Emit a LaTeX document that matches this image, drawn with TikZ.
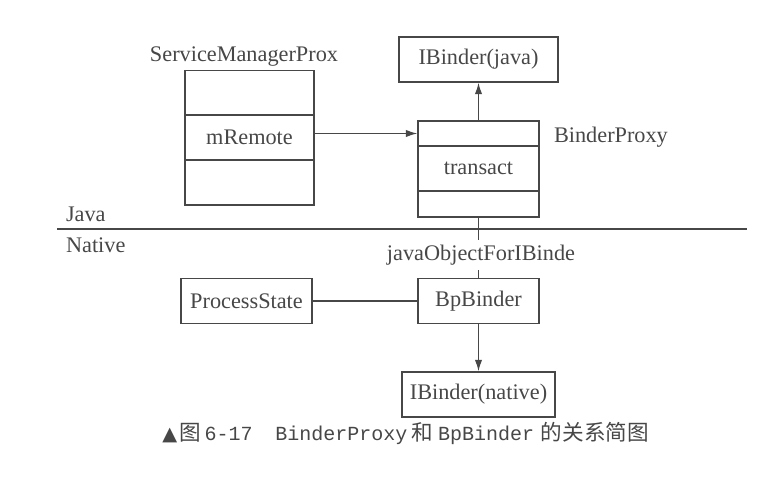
\documentclass[tikz,border=0pt]{standalone}
\usepackage{fontspec}
\setmainfont{Liberation Serif}
\newfontfamily\cjk{Noto Sans CJK SC}
\newfontfamily\capmono{Liberation Mono}
\newfontfamily\symfont{DejaVu Sans}
\usetikzlibrary{arrows.meta}
\definecolor{InkGray}{HTML}{474747}

\begin{document}
\begin{tikzpicture}[
    x=0.44pt, y=-0.44pt,
    every node/.style={text=InkGray, font=\fontsize{9.8}{11}\selectfont},
    box/.style={draw=InkGray, line width=0.6pt, inner sep=0pt, minimum width=#1*0.44pt, minimum height=19.8pt},
    cell/.style={box=#1, minimum height=0pt},
    link/.style={draw=InkGray, line width=0.6pt},
    >={Latex[length=5pt,width=3.2pt]}
]
    \useasboundingbox (0,0) rectangle (771,479);

    % ServiceManagerProx (three rows)
    \node[anchor=base] (smpName) at (244,62) {ServiceManagerProx};
    \node[box=129] (smpTop) at (249.5,93) {};
    \node[box=129] (smpMid) at (249.5,137.5) {mRemote};
    \node[box=129] (smpBot) at (249.5,182.5) {};

    % BinderProxy (three rows)
    \node[cell=121, minimum height=11pt] (bpTop) at (478.5,133.5) {};
    \node[box=121] (bpMid) at (478.5,168.5) {transact};
    \node[cell=121, minimum height=11.4pt] (bpBot) at (478.5,204) {};
    \node[anchor=base west] (bpName) at (546,143) {BinderProxy};

    % IBinder (java)
    \node[box=159] (ijava) at (478.5,59.5) {IBinder(java)};

    % Java / Native border
    \draw[InkGray, line width=0.9pt] (57,229) -- (747,229);
    \node[anchor=base west] (javaSide) at (58,222) {Java};
    \node[anchor=base west] (nativeSide) at (58,253) {Native};

    % Native side
    \node[inner sep=2pt] (jofib) at (481,255) {javaObjectForIBinde};
    \node[box=121] (bpbinder) at (478.5,301) {BpBinder};
    \node[box=131] (pstate) at (246.5,301) {ProcessState};
    \node[box=153] (inative) at (478.5,394.5) {IBinder(native)};

    % Connectors
    \draw[link, ->] (smpMid.east |- bpTop.west) -- (bpTop.west);
    \draw[link, ->] (bpTop.north) -- (ijava.south);
    \draw[link] (bpBot.south) -- (bpBot.south |- jofib.north);
    \draw[link] (bpbinder.north |- jofib.south) -- (bpbinder.north);
    \draw[link] (pstate.east) -- (bpbinder.west);
    \draw[link, ->] (bpbinder.south) -- (inative.north);

    % Caption
    \node[anchor=west, inner sep=0pt, font=\cjk\fontsize{9.5}{11}\selectfont] (caption) at (162,433)
        {{\symfont\fontsize{8.5}{10}\selectfont ▲}\hspace{1pt}图\hspace{1.5pt}{\capmono\fontsize{8.8}{10}\selectfont 6-17}\hspace{10pt}{\capmono\fontsize{8.8}{10}\selectfont BinderProxy}\hspace{2pt}和\hspace{2pt}{\capmono\fontsize{8.8}{10}\selectfont BpBinder}\hspace{3pt}的关系简图};
\end{tikzpicture}
\end{document}
